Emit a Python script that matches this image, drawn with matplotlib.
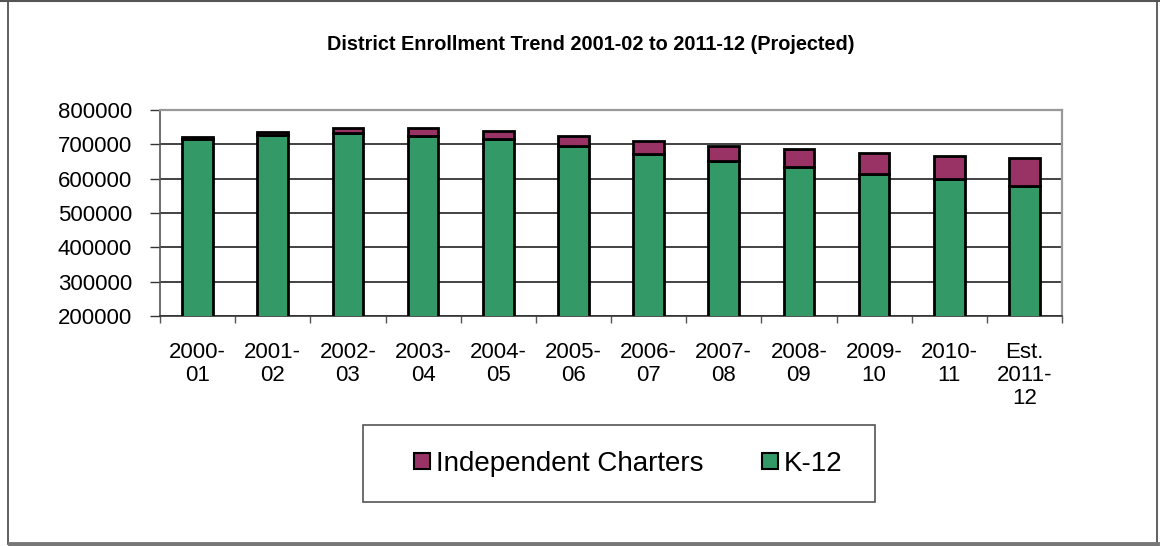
import matplotlib.pyplot as plt
from matplotlib.patches import Rectangle
from matplotlib.lines import Line2D
import numpy as np

plt.rcParams['font.family'] = ['Liberation Sans', 'DejaVu Sans']

# Enrollment by school year
years = ["2000-\n01", "2001-\n02", "2002-\n03", "2003-\n04", "2004-\n05", "2005-\n06",
         "2006-\n07", "2007-\n08", "2008-\n09", "2009-\n10", "2010-\n11", "Est.\n2011-\n12"]
k12 = [715000, 727000, 734000, 723000, 715000, 696000,
       671000, 652000, 634000, 614000, 600000, 578000]
charters = [5000, 9000, 13000, 24000, 25000, 29000,
            39000, 44000, 52000, 61000, 67000, 83000]

green = "#339966"
purple = "#993366"

fig = plt.figure(figsize=(11.6, 5.46), dpi=100)
ax = fig.add_axes([160 / 1160, 1 - 316 / 546, 902 / 1160, 206 / 546])

x = np.arange(len(years))
ax.bar(x, k12, width=0.41, bottom=0, color=green, edgecolor="black", linewidth=2, zorder=3)
ax.bar(x, charters, width=0.41, bottom=k12, color=purple, edgecolor="black", linewidth=2, zorder=3)

ax.set_xlim(-0.5, len(years) - 0.5)
ax.set_ylim(200000, 800000)
ax.set_yticks(np.arange(200000, 800001, 100000))
ax.yaxis.grid(True, color="#222222", linewidth=1.2, zorder=0)

ax.set_xticks(x)
ax.set_xticklabels(years, fontsize=16, linespacing=1.12)
ax.set_xticks(np.arange(-0.5, len(years)), minor=True)
ax.tick_params(axis="x", which="major", length=0, pad=19)
ax.tick_params(axis="x", which="minor", length=5, width=1, color="#555555")
ax.tick_params(axis="y", length=7, width=1, color="#333333", labelsize=16, pad=13)

for side in ["top", "right"]:
    ax.spines[side].set_color("#999999")
    ax.spines[side].set_linewidth(1.6)
ax.spines["left"].set_color("#555555")
ax.spines["bottom"].set_color("#333333")
ax.spines["left"].set_linewidth(1.2)
ax.spines["bottom"].set_linewidth(1.2)

fig.text(591 / 1160, 1 - 44 / 546, "District Enrollment Trend 2001-02 to 2011-12 (Projected)",
         ha="center", va="center", fontsize=14.3, fontweight="bold")

# Legend box
fig.patches.append(Rectangle((363 / 1160, 1 - 502 / 546), 512 / 1160, 77 / 546,
                             transform=fig.transFigure, facecolor="white",
                             edgecolor="#555555", linewidth=1.2))
handles = [Line2D([], [], marker="s", linestyle="none", markersize=11,
                  markerfacecolor=purple, markeredgecolor="black", markeredgewidth=1.5),
           Line2D([], [], marker="s", linestyle="none", markersize=11,
                  markerfacecolor=green, markeredgecolor="black", markeredgewidth=1.5)]
fig.legend(handles, ["Independent Charters", "K-12"], loc="center",
           bbox_to_anchor=(627 / 1160, 1 - 464 / 546), ncol=2, frameon=False,
           fontsize=20, handletextpad=0.1, columnspacing=2.0, handlelength=0.8)

# Outer chart frame
fig.add_artist(Line2D([8 / 1160, 8 / 1160], [1 - 544 / 546, 1], transform=fig.transFigure,
                      color="#444444", linewidth=1.2))
fig.add_artist(Line2D([1157 / 1160, 1157 / 1160], [1 - 544 / 546, 1], transform=fig.transFigure,
                      color="#444444", linewidth=1.2))
fig.add_artist(Line2D([0, 1], [1 - 1 / 546, 1 - 1 / 546], transform=fig.transFigure,
                      color="#555555", linewidth=1.5))
fig.add_artist(Line2D([10 / 1160, 1157 / 1160], [1 - 544 / 546, 1 - 544 / 546],
                      transform=fig.transFigure, color="#777777", linewidth=3.5))

fig.savefig("out.png", dpi=100)
